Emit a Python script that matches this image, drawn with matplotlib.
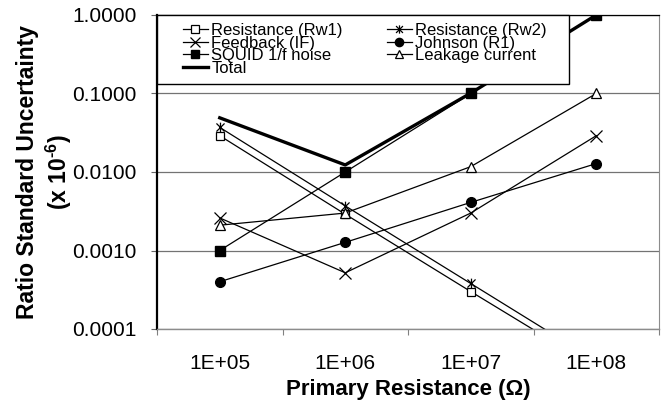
import matplotlib.pyplot as plt
from matplotlib.lines import Line2D
from matplotlib.legend_handler import HandlerLine2D
from matplotlib.path import Path
from matplotlib.ticker import FixedLocator, NullLocator, FormatStrFormatter, NullFormatter, FixedFormatter

plt.rcParams['font.family'] = ['Liberation Sans', 'DejaVu Sans']
plt.rcParams['mathtext.fontset'] = 'custom'
plt.rcParams['mathtext.rm'] = 'Liberation Sans'
plt.rcParams['mathtext.bf'] = 'Liberation Sans:bold'

# data
resistances = ['1E+05', '1E+06', '1E+07', '1E+08']
rw1 = [0.029, 0.0029, 0.00030, 0.000032]
rw2 = [0.037, 0.0037, 0.00038, 0.000039]
feedback = [0.0026, 0.00052, 0.0030, 0.029]
johnson = [0.00040, 0.00127, 0.0041, 0.0128]
squid = [0.001, 0.01, 0.1, 1.0]
leakage = [0.0021, 0.0030, 0.0117, 0.1]
total = [0.049, 0.0123, 0.101, 1.0]

# excel style star: an X with a vertical bar
star = Path([(-1, -1), (1, 1), (-1, 1), (1, -1), (0, -1.2), (0, 1.2)],
            [Path.MOVETO, Path.LINETO] * 3)

fig = plt.figure(figsize=(6.64, 4.07), dpi=100)
ax = fig.add_axes([157 / 664, 78 / 407, 502 / 664, 314 / 407])

x = range(len(resistances))
lw = 0.9
h_rw1, = ax.plot(x, rw1, color='black', lw=lw, marker='s', ms=6, mfc='white', mec='black', mew=0.9)
h_rw2, = ax.plot(x, rw2, color='black', lw=lw, marker=star, ms=7, mfc='none', mec='black', mew=0.9)
h_fb, = ax.plot(x, feedback, color='black', lw=lw, marker='x', ms=8, mec='black', mew=0.9)
h_jn, = ax.plot(x, johnson, color='black', lw=lw, marker='o', ms=7, mfc='black', mec='black')
h_sq, = ax.plot(x, squid, color='black', lw=lw, marker='s', ms=7, mfc='black', mec='black')
h_lk, = ax.plot(x, leakage, color='black', lw=lw, marker='^', ms=7, mfc='white', mec='black', mew=0.9)
h_tot, = ax.plot(x, total, color='black', lw=2.4)

ax.set_yscale('log')
ax.set_ylim(1e-4, 1)
ax.set_xlim(-0.5, 3.5)

ax.yaxis.set_major_locator(FixedLocator([1e-4, 1e-3, 1e-2, 1e-1, 1]))
ax.yaxis.set_minor_locator(NullLocator())
ax.yaxis.set_major_formatter(FormatStrFormatter('%.4f'))
ax.tick_params(axis='y', which='major', direction='out', length=4.5, width=0.8,
               color='0.4', pad=10, labelsize=15)

ax.xaxis.set_major_locator(FixedLocator([-0.5, 0.5, 1.5, 2.5, 3.5]))
ax.xaxis.set_major_formatter(NullFormatter())
ax.xaxis.set_minor_locator(FixedLocator(list(x)))
ax.xaxis.set_minor_formatter(FixedFormatter(resistances))
ax.tick_params(axis='x', which='major', direction='out', length=4, width=0.8, color='0.5')
ax.tick_params(axis='x', which='minor', length=0, pad=18, labelsize=15)

ax.yaxis.grid(True, color='0.45', lw=0.9)
ax.set_axisbelow(True)

ax.spines['left'].set_linewidth(1.6)
ax.spines['left'].set_color('black')
ax.spines['top'].set_linewidth(0.9)
ax.spines['top'].set_color('black')
ax.spines['right'].set_color('0.55')
ax.spines['bottom'].set_color('0.55')
ax.spines['bottom'].set_linewidth(1.0)

ax.set_xlabel('Primary Resistance (\u03a9)', fontsize=16, fontweight='bold', labelpad=4)
ax.set_ylabel('Ratio Standard Uncertainty\n(x 10$^{\\mathbf{\u20106}}$)', fontsize=16.5,
              fontweight='bold', labelpad=-1, linespacing=1.2)

handles = [h_rw1, h_fb, h_sq, h_tot, h_rw2, h_jn, h_lk]
labels = ['Resistance (Rw1)', 'Feedback (IF)', 'SQUID 1/f noise', 'Total',
          'Resistance (Rw2)   ', 'Johnson (R1)', 'Leakage current']
leg = ax.legend(handles, labels, ncol=2, loc='upper left', bbox_to_anchor=(0, 1),
                borderaxespad=0, fontsize=12, frameon=True, fancybox=False,
                framealpha=1, edgecolor='black', labelspacing=-0.15,
                handlelength=2.55, handletextpad=0.2, columnspacing=1.6,
                borderpad=0.5, markerscale=0.85,
                handler_map={Line2D: HandlerLine2D(xpad=1.05)})
leg.get_frame().set_linewidth(1.0)
leg.set_zorder(10)

fig.savefig('out.png', dpi=100)
